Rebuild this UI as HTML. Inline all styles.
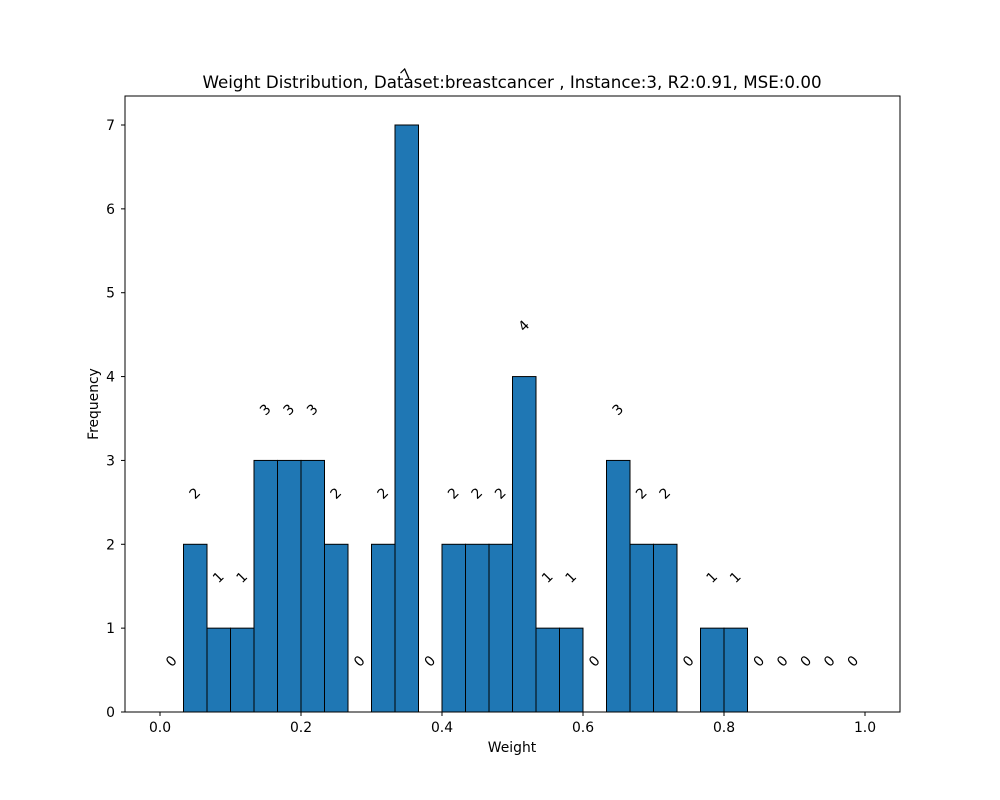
<!DOCTYPE html>
<html><head><meta charset="utf-8"><style>
body{margin:0;background:#fff;}
svg{display:block;font-family:"DejaVu Sans","Liberation Sans",sans-serif;}
</style></head><body>
<svg id="chart" width="1000" height="800">
<rect x="0" y="0" width="1000" height="800" fill="#fff"/>
<text x="512" y="88" font-size="16.7" text-anchor="middle">Weight Distribution, Dataset:breastcancer , Instance:3, R2:0.91, MSE:0.00</text>
<g id="bars"></g>
<g id="labels"></g>
<rect x="125" y="96" width="775" height="616" fill="none" stroke="#000" stroke-width="1"/>
<g id="xticks"></g>
<g id="yticks"></g>
<text x="512" y="752" font-size="13.9" text-anchor="middle">Weight</text>
<text x="98" y="404" font-size="13.9" text-anchor="middle" transform="rotate(-90 98 404)">Frequency</text>
</svg>
<script>
const counts = [0,2,1,1,3,3,3,2,0,2,7,0,2,2,2,4,1,1,0,3,2,2,0,1,1,0,0,0,0,0];
const binStart = 0, binEnd = 1;
const xTickValues = [0,0.2,0.4,0.6,0.8,1.0];
const xTickLabels = ["0.0","0.2","0.4","0.6","0.8","1.0"];
const yTickValues = [0,1,2,3,4,5,6,7];

const NS = "http://www.w3.org/2000/svg";
const X = v => 160 + v * 705;
const Y = v => 712 - v * 83.857;
function mk(tag, attrs, parent){const e=document.createElementNS(NS,tag);for(const k in attrs)e.setAttribute(k,attrs[k]);parent.appendChild(e);return e;}

const bars=document.getElementById('bars'), labels=document.getElementById('labels');
const n=counts.length, w=(binEnd-binStart)/n;
counts.forEach((c,i)=>{
  const x0=X(binStart+i*w), x1=X(binStart+(i+1)*w);
  if(c>0){
    const r=mk('rect',{x:x0,y:Y(c),width:x1-x0,height:Y(0)-Y(c),fill:'#1f77b4',stroke:'#000','stroke-width':1},bars);
    
    
  }
  const cx=(x0+x1)/2, cy=Y(c+0.6);
  const t=mk('text',{x:cx,y:cy,'font-size':13.9,'text-anchor':'middle','dominant-baseline':'central',transform:`rotate(-45 ${cx} ${cy})`},labels);
  t.textContent=c;
  
  
});

const xt=document.getElementById('xticks');
xTickValues.forEach((v,i)=>{
  const x=X(v);
  const l=mk('line',{x1:x,x2:x,y1:712,y2:716,stroke:'#000'},xt);
  
  
  const t=mk('text',{x:x,y:732,'font-size':13.9,'text-anchor':'middle'},xt);
  t.textContent=xTickLabels[i];
  
  
});
const yt=document.getElementById('yticks');
yTickValues.forEach(v=>{
  const y=Y(v);
  const l=mk('line',{x1:121,x2:125,y1:y,y2:y,stroke:'#000'},yt);
  
  
  const t=mk('text',{x:115,y:y+5,'font-size':13.9,'text-anchor':'end'},yt);
  t.textContent=v;
  
  
});
</script>
</body></html>
